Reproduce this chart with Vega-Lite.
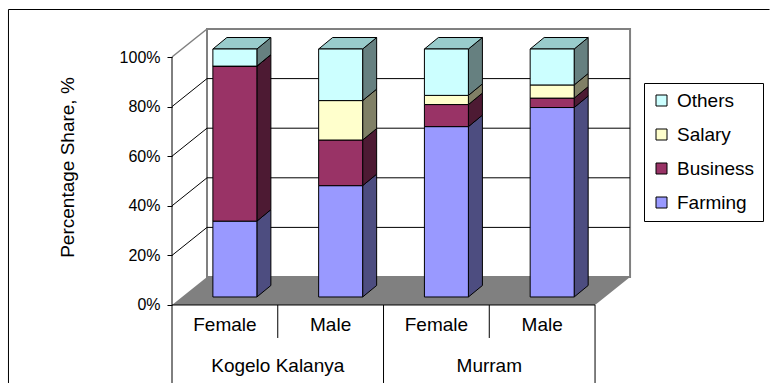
{
  "$schema": "https://vega.github.io/schema/vega-lite/v6.json",
  "width": 459,
  "height": 355,
  "autosize": {"type": "none"},
  "padding": {"left": 172, "top": 28, "right": 139, "bottom": 0},
  "background": "white",
  "config": {"view": {"stroke": null}, "font": "Liberation Sans"},
  "datasets": {
    "shares": [
      {"region": "Kogelo Kalanya", "gender": "Female", "source": "Farming", "share": 30.6},
      {"region": "Kogelo Kalanya", "gender": "Female", "source": "Business", "share": 62.5},
      {"region": "Kogelo Kalanya", "gender": "Female", "source": "Salary", "share": 0},
      {"region": "Kogelo Kalanya", "gender": "Female", "source": "Others", "share": 6.9},
      {"region": "Kogelo Kalanya", "gender": "Male", "source": "Farming", "share": 44.9},
      {"region": "Kogelo Kalanya", "gender": "Male", "source": "Business", "share": 18.4},
      {"region": "Kogelo Kalanya", "gender": "Male", "source": "Salary", "share": 15.9},
      {"region": "Kogelo Kalanya", "gender": "Male", "source": "Others", "share": 20.8},
      {"region": "Murram", "gender": "Female", "source": "Farming", "share": 68.7},
      {"region": "Murram", "gender": "Female", "source": "Business", "share": 8.9},
      {"region": "Murram", "gender": "Female", "source": "Salary", "share": 3.7},
      {"region": "Murram", "gender": "Female", "source": "Others", "share": 18.7},
      {"region": "Murram", "gender": "Male", "source": "Farming", "share": 76.4},
      {"region": "Murram", "gender": "Male", "source": "Business", "share": 3.8},
      {"region": "Murram", "gender": "Male", "source": "Salary", "share": 5.3},
      {"region": "Murram", "gender": "Male", "source": "Others", "share": 14.5}
    ],
    "levels": [{"pct": 0}, {"pct": 20}, {"pct": 40}, {"pct": 60}, {"pct": 80}, {"pct": 100}]
  },
  "layer": [
    {
      "data": {"values": [{}]},
      "transform": [
        {"calculate": "-1.5461", "as": "ax"},
        {"calculate": "5.65", "as": "bx"},
        {"calculate": "119.15", "as": "ay"}
      ],
      "mark": {"type": "rule", "color": "black", "strokeWidth": 1},
      "encoding": {
        "x": {"field": "ax", "type": "quantitative", "scale": {"domain": [0, 4.34], "nice": false, "zero": false}, "axis": null},
        "x2": {"field": "bx"},
        "y": {"field": "ay", "type": "quantitative", "scale": {"domain": [-31.452, 111.694], "nice": false, "zero": false}},
        "y2": {"field": "ay"}
      }
    },
    {
      "data": {"values": [{}]},
      "transform": [
        {"calculate": "-1.5461", "as": "ax"},
        {"calculate": "119.15", "as": "ay"},
        {"calculate": "-31.45", "as": "by"}
      ],
      "mark": {"type": "rule", "color": "black", "strokeWidth": 1},
      "encoding": {
        "x": {"field": "ax", "type": "quantitative", "axis": null},
        "x2": {"field": "ax"},
        "y": {"field": "ay", "type": "quantitative"},
        "y2": {"field": "by"}
      }
    },
    {
      "data": {"values": [{}]},
      "transform": [
        {"calculate": "0.331", "as": "ax"},
        {"calculate": "4.331", "as": "bx"},
        {"calculate": "11.29", "as": "ay"},
        {"calculate": "111.29", "as": "by"}
      ],
      "mark": {"type": "rect", "fill": "white", "stroke": "#808080", "strokeWidth": 2},
      "encoding": {
        "x": {"field": "ax", "type": "quantitative", "axis": null},
        "x2": {"field": "bx"},
        "y": {"field": "ay", "type": "quantitative"},
        "y2": {"field": "by"}
      }
    },
    {
      "data": {"values": [{"k": 0}, {"k": 1}]},
      "transform": [
        {"calculate": "datum.k * 11.29", "as": "fy"},
        {"calculate": "datum.k * 0.331", "as": "fx"},
        {"calculate": "4 + datum.k * 0.331", "as": "fx2"}
      ],
      "mark": {"type": "area", "orient": "horizontal", "color": "#808080"},
      "encoding": {
        "y": {"field": "fy", "type": "quantitative"},
        "x": {"field": "fx", "type": "quantitative", "axis": null},
        "x2": {"field": "fx2"}
      }
    },
    {
      "data": {"name": "levels"},
      "transform": [
        {"filter": "datum.pct > 0 && datum.pct < 100"},
        {"calculate": "datum.pct + 11.29", "as": "gy"},
        {"calculate": "0.331", "as": "ax"},
        {"calculate": "4.331", "as": "bx"}
      ],
      "mark": {"type": "rule", "color": "black", "strokeWidth": 1},
      "encoding": {
        "x": {"field": "ax", "type": "quantitative", "axis": null},
        "x2": {"field": "bx"},
        "y": {"field": "gy", "type": "quantitative"},
        "y2": {"field": "gy"}
      }
    },
    {
      "data": {"name": "levels"},
      "transform": [
        {"filter": "datum.pct > 0 && datum.pct < 100"},
        {"calculate": "datum.pct + 11.29", "as": "gy"},
        {"calculate": "0", "as": "ax"},
        {"calculate": "0.331", "as": "bx"}
      ],
      "mark": {"type": "rule", "color": "black", "strokeWidth": 1},
      "encoding": {
        "x": {"field": "ax", "type": "quantitative", "axis": null},
        "x2": {"field": "bx"},
        "y": {"field": "pct", "type": "quantitative"},
        "y2": {"field": "gy"}
      }
    },
    {
      "data": {"name": "levels"},
      "transform": [
        {"filter": "datum.pct === 100"},
        {"calculate": "datum.pct + 11.29", "as": "gy"},
        {"calculate": "0", "as": "ax"},
        {"calculate": "0.331", "as": "bx"}
      ],
      "mark": {"type": "rule", "color": "#808080", "strokeWidth": 1.5},
      "encoding": {
        "x": {"field": "ax", "type": "quantitative", "axis": null},
        "x2": {"field": "bx"},
        "y": {"field": "pct", "type": "quantitative"},
        "y2": {"field": "gy"}
      }
    },
    {
      "data": {"values": [{}]},
      "transform": [
        {"calculate": "0", "as": "ax"},
        {"calculate": "100", "as": "ay"},
        {"calculate": "-31.45", "as": "by"}
      ],
      "mark": {"type": "rule", "color": "black", "strokeWidth": 1},
      "encoding": {
        "x": {"field": "ax", "type": "quantitative", "axis": null},
        "x2": {"field": "ax"},
        "y": {"field": "ay", "type": "quantitative"},
        "y2": {"field": "by"}
      }
    },
    {
      "data": {"values": [{}]},
      "transform": [
        {"calculate": "0", "as": "ax"},
        {"calculate": "4", "as": "bx"},
        {"calculate": "0", "as": "ay"}
      ],
      "mark": {"type": "rule", "color": "black", "strokeWidth": 1},
      "encoding": {
        "x": {"field": "ax", "type": "quantitative", "axis": null},
        "x2": {"field": "bx"},
        "y": {"field": "ay", "type": "quantitative"},
        "y2": {"field": "ay"}
      }
    },
    {
      "data": {"name": "shares"},
      "transform": [
        {"filter": "datum.source === 'Farming'"},
        {"calculate": "(datum.region === 'Murram' ? 2 : 0) + (datum.gender === 'Male' ? 1 : 0)", "as": "slot"},
        {"calculate": "datum.slot + 1", "as": "edge"},
        {"calculate": "0", "as": "top"},
        {"calculate": "datum.gender === 'Female' ? -13.3 : -31.45", "as": "low"}
      ],
      "mark": {"type": "rule", "color": "black", "strokeWidth": 1},
      "encoding": {
        "x": {"field": "edge", "type": "quantitative", "axis": null},
        "x2": {"field": "edge"},
        "y": {"field": "top", "type": "quantitative"},
        "y2": {"field": "low"}
      }
    },
    {
      "data": {"name": "shares"},
      "transform": [
        {"calculate": "indexof(['Farming', 'Business', 'Salary', 'Others'], datum.source)", "as": "order"},
        {"calculate": "(datum.region === 'Murram' ? 2 : 0) + (datum.gender === 'Male' ? 1 : 0)", "as": "slot"},
        {"stack": "share", "groupby": ["region", "gender"], "sort": [{"field": "order", "order": "ascending"}], "as": ["y0", "y1"]},
        {"calculate": "datum.region + '|' + datum.gender + '|' + datum.source", "as": "seg"},
        {"calculate": "[0, 1]", "as": "k"},
        {"flatten": ["k"]},
        {"calculate": "datum.slot + 0.8026 + datum.k * 0.1324", "as": "sx"},
        {"calculate": "datum.y0 + 3.226 + datum.k * 4.637", "as": "sy0"},
        {"calculate": "datum.y1 + 3.226 + datum.k * 4.637", "as": "sy1"}
      ],
      "mark": {"type": "area", "orient": "vertical", "stroke": "black", "strokeWidth": 1},
      "encoding": {
        "x": {"field": "sx", "type": "quantitative", "axis": null},
        "y": {"field": "sy1", "type": "quantitative"},
        "y2": {"field": "sy0"},
        "fill": {
          "field": "source",
          "type": "nominal",
          "scale": {"range": ["#4D1A33", "#4D4D80", "#668080", "#808066"]},
          "legend": null
        },
        "detail": {"field": "seg", "type": "nominal"}
      }
    },
    {
      "data": {"name": "shares"},
      "transform": [
        {"filter": "datum.source === 'Others'"},
        {"calculate": "(datum.region === 'Murram' ? 2 : 0) + (datum.gender === 'Male' ? 1 : 0)", "as": "slot"},
        {"calculate": "[0, 1]", "as": "k"},
        {"flatten": ["k"]},
        {"calculate": "100 + 3.226 + datum.k * 4.637", "as": "ty"},
        {"calculate": "datum.slot + 0.3866 + datum.k * 0.1324", "as": "tx"},
        {"calculate": "datum.slot + 0.8026 + datum.k * 0.1324", "as": "tx2"}
      ],
      "mark": {"type": "area", "orient": "horizontal", "fill": "#99CCCC", "stroke": "black", "strokeWidth": 1},
      "encoding": {
        "y": {"field": "ty", "type": "quantitative"},
        "x": {"field": "tx", "type": "quantitative", "axis": null},
        "x2": {"field": "tx2"},
        "detail": {"field": "slot", "type": "nominal"}
      }
    },
    {
      "data": {"name": "shares"},
      "transform": [
        {"calculate": "indexof(['Farming', 'Business', 'Salary', 'Others'], datum.source)", "as": "order"},
        {"calculate": "(datum.region === 'Murram' ? 2 : 0) + (datum.gender === 'Male' ? 1 : 0)", "as": "slot"},
        {"stack": "share", "groupby": ["region", "gender"], "sort": [{"field": "order", "order": "ascending"}], "as": ["y0", "y1"]},
        {"calculate": "datum.slot + 0.3866", "as": "xl"},
        {"calculate": "datum.slot + 0.8026", "as": "xr"},
        {"calculate": "datum.y0 + 3.226", "as": "yb"},
        {"calculate": "datum.y1 + 3.226", "as": "yt"}
      ],
      "mark": {"type": "rect", "stroke": "black", "strokeWidth": 1},
      "encoding": {
        "x": {"field": "xl", "type": "quantitative", "axis": null},
        "x2": {"field": "xr"},
        "y": {
          "field": "yb",
          "type": "quantitative",
          "axis": {
            "values": [0, 20, 40, 60, 80, 100],
            "labelExpr": "datum.value + '%'",
            "domain": false,
            "grid": false,
            "ticks": true,
            "tickSize": 5,
            "tickColor": "black",
            "labelFont": "Liberation Sans",
            "labelFontSize": 16,
            "labelColor": "black",
            "labelPadding": 7,
            "title": "Percentage Share, %",
            "titleFont": "Liberation Sans",
            "titleFontSize": 19,
            "titleFontWeight": "normal",
            "titleColor": "black",
            "titleAngle": -90,
            "titleX": -105,
            "titleY": 139,
            "titleAlign": "center",
            "titleBaseline": "middle"
          }
        },
        "y2": {"field": "yt"},
        "color": {
          "field": "source",
          "type": "nominal",
          "scale": {"domain": ["Others", "Salary", "Business", "Farming"], "range": ["#CCFFFF", "#FFFFCC", "#993366", "#9999FF"]},
          "legend": {
            "orient": "none",
            "legendX": 472,
            "legendY": 55,
            "title": null,
            "padding": 8,
            "strokeColor": "black",
            "fillColor": "white",
            "symbolType": "square",
            "symbolSize": 121,
            "symbolStrokeColor": "black",
            "symbolStrokeWidth": 1,
            "symbolOpacity": 1,
            "labelFont": "Liberation Sans",
            "labelFontSize": 19,
            "labelColor": "black",
            "labelOffset": 6,
            "rowPadding": 14
          }
        }
      }
    },
    {
      "data": {"name": "shares"},
      "transform": [
        {"filter": "datum.source === 'Farming'"},
        {"calculate": "(datum.region === 'Murram' ? 2 : 0) + (datum.gender === 'Male' ? 1 : 0) + 0.5", "as": "cx"},
        {"calculate": "-10.48", "as": "cy"}
      ],
      "mark": {"type": "text", "font": "Liberation Sans", "fontSize": 19, "color": "black", "align": "center", "baseline": "alphabetic"},
      "encoding": {
        "x": {"field": "cx", "type": "quantitative", "axis": null},
        "y": {"field": "cy", "type": "quantitative"},
        "text": {"field": "gender", "type": "nominal"}
      }
    },
    {
      "data": {"name": "shares"},
      "transform": [
        {"filter": "datum.source === 'Farming' && datum.gender === 'Female'"},
        {"calculate": "(datum.region === 'Murram' ? 2 : 0) + 1", "as": "cx"},
        {"calculate": "-26.9", "as": "cy"}
      ],
      "mark": {"type": "text", "font": "Liberation Sans", "fontSize": 19, "color": "black", "align": "center", "baseline": "alphabetic"},
      "encoding": {
        "x": {"field": "cx", "type": "quantitative", "axis": null},
        "y": {"field": "cy", "type": "quantitative"},
        "text": {"field": "region", "type": "nominal"}
      }
    }
  ]
}
